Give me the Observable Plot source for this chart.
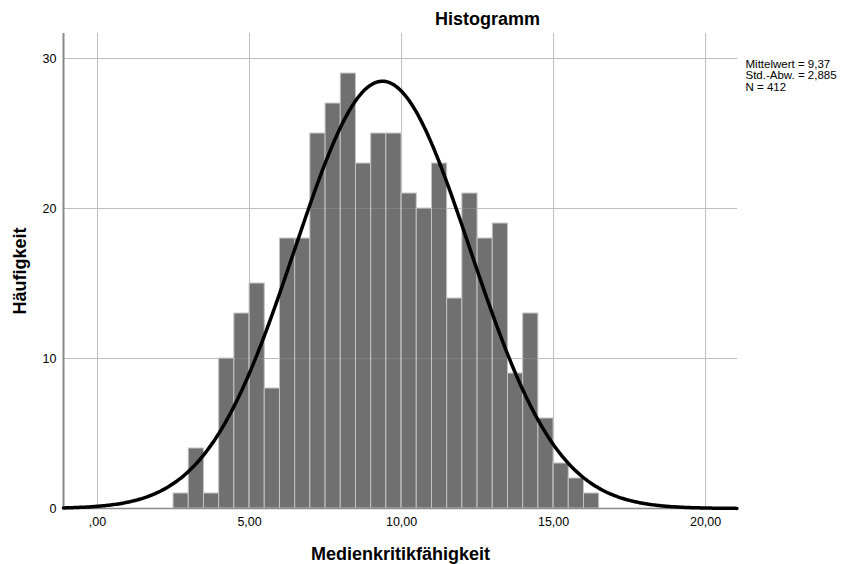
<!DOCTYPE html>
<html>
<head>
<meta charset="utf-8">
<script src="https://cdn.jsdelivr.net/npm/d3@7"></script>
<script src="https://cdn.jsdelivr.net/npm/@observablehq/plot@0.6"></script>
<style>
  body { margin: 0; background: #fff; }
  svg { font-family: "Liberation Sans", Arial, sans-serif; }
</style>
</head>
<body>
<div id="chart"></div>
<script>
// ---- data ----
const binStarts = [2.5, 3, 3.5, 4, 4.5, 5, 5.5, 6, 6.5, 7, 7.5, 8, 8.5, 9, 9.5, 10, 10.5, 11, 11.5, 12, 12.5, 13, 13.5, 14, 14.5, 15, 15.5, 16];
const binWidth = 0.5;
const counts = [1, 4, 1, 10, 13, 15, 8, 18, 18, 25, 27, 29, 23, 25, 25, 21, 20, 23, 14, 21, 18, 19, 9, 13, 6, 3, 2, 1];
const xTicks = [0, 5, 10, 15, 20];
const xTickLabels = [",00", "5,00", "10,00", "15,00", "20,00"];
const yTicks = [0, 10, 20, 30];
const meanValue = 9.37;
const sdValue = 2.885;
const nValue = 412;
const statLines = ["Mittelwert = 9,37", "Std.-Abw. = 2,885", "N = 412"];
const titleText = "Histogramm";
const xLabel = "Medienkritikfähigkeit";
const yLabel = "Häufigkeit";

// ---- derived ----
const xDomain = [-1.12, 21.05];
const bins = binStarts.map((x0, i) => ({x1: x0, x2: x0 + binWidth, count: counts[i]}));
// fitted normal curve (from displayed mean, sd, N)
const scaleK = nValue * binWidth / (sdValue * Math.sqrt(2 * Math.PI));
const curve = d3.range(xDomain[0], xDomain[1] + 0.001, 0.05).map(x => ({
  x, y: scaleK * Math.exp(-0.5 * ((x - meanValue) / sdValue) ** 2)
}));
const fmtX = d => xTickLabels[xTicks.indexOf(d)] ?? d;

const chart = Plot.plot({
  width: 851,
  height: 564,
  marginLeft: 63,
  marginRight: 114,
  marginTop: 33,
  marginBottom: 56,
  style: {fontSize: "12px", color: "#000", background: "#fff"},
  x: {domain: xDomain},
  y: {domain: [0, 31.67]},
  marks: [
    Plot.gridX(xTicks, {stroke: "#b4b4b4", strokeOpacity: 1, strokeWidth: 1}),
    Plot.gridY(yTicks, {stroke: "#b4b4b4", strokeOpacity: 1, strokeWidth: 1}),
    Plot.rectY(bins, {x1: "x1", x2: "x2", y: "count", fill: "#707070", stroke: "#c4c4c4", strokeWidth: 1}),
    Plot.gridX(xTicks, {stroke: "#ffffff", strokeOpacity: 0.12, strokeWidth: 1}),
    Plot.gridY(yTicks, {stroke: "#ffffff", strokeOpacity: 0.12, strokeWidth: 1}),
    Plot.ruleX([xDomain[0]], {stroke: "#8a8a8a", strokeWidth: 2}),
    Plot.ruleY([0], {stroke: "#8a8a8a", strokeWidth: 1.5}),
    Plot.line(curve, {x: "x", y: "y", stroke: "#000", strokeWidth: 3.5}),
    Plot.axisX(xTicks, {tickSize: 0, tickPadding: 9, tickFormat: fmtX, label: null, fontSize: 12.5}),
    Plot.axisY(yTicks, {tickSize: 0, tickPadding: 7, label: null, fontSize: 12.5}),
    Plot.text([titleText], {frameAnchor: "top", dx: 87, dy: -21, fontWeight: "bold", fontSize: 18}),
    Plot.text([xLabel], {frameAnchor: "bottom", dy: 51, fontWeight: "bold", fontSize: 18}),
    Plot.text([yLabel], {frameAnchor: "left", dx: -43, rotate: -90, textAnchor: "middle", fontWeight: "bold", fontSize: 18}),
    Plot.text([statLines.join("\n")], {frameAnchor: "top-right", dx: 8, dy: 26, textAnchor: "start", lineAnchor: "top", fontSize: 11.5, lineHeight: 1})
  ]
});
document.getElementById("chart").appendChild(chart);
</script>
</body>
</html>
